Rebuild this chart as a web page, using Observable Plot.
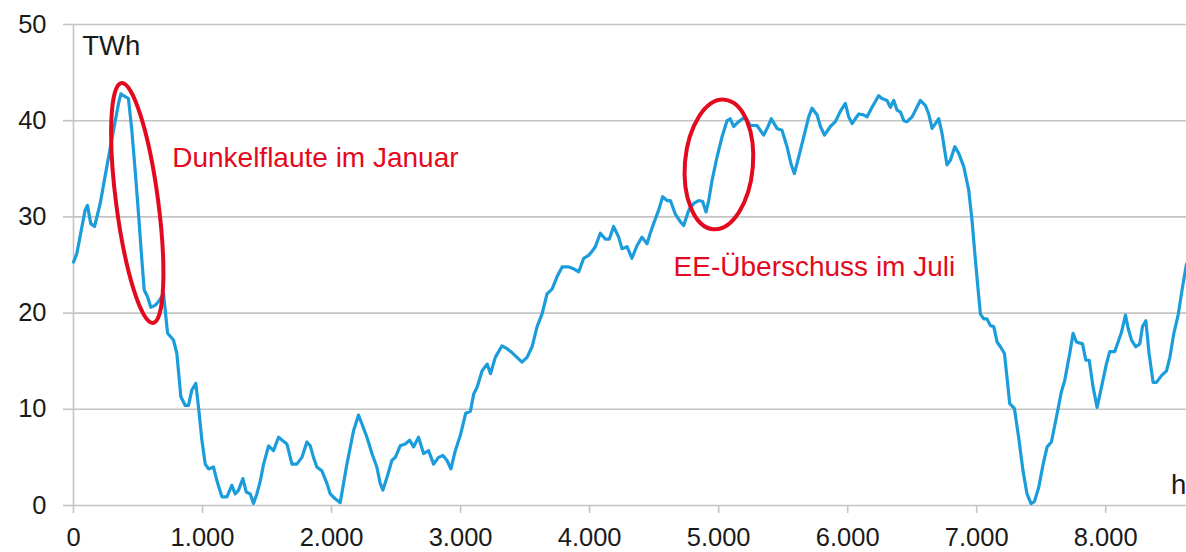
<!DOCTYPE html>
<html>
<head>
<meta charset="utf-8">
<script src="https://cdn.jsdelivr.net/npm/d3@7"></script>
<script src="https://cdn.jsdelivr.net/npm/@observablehq/plot@0.6"></script>
<style>
  html, body { margin: 0; padding: 0; background: #ffffff; }
  #chart svg { display: block; }
</style>
</head>
<body>
<div id="chart"></div>
<script>
// ---- Data ----
const hours = [0,26,90,108,134,163,207,258,310,349,367,388,426,452,478,504,530,548,574,599,633,659,698,729,775,801,832,866,891,917,948,969,995,1021,1047,1085,1111,1150,1189,1227,1253,1279,1313,1339,1370,1395,1421,1447,1473,1512,1550,1589,1615,1654,1693,1731,1770,1809,1835,1860,1886,1925,1964,1990,2028,2067,2119,2171,2209,2235,2274,2313,2351,2377,2398,2429,2468,2494,2532,2571,2605,2636,2674,2713,2752,2791,2829,2863,2894,2925,2959,2998,3040,3076,3102,3128,3167,3206,3232,3269,3321,3360,3398,3437,3476,3515,3554,3593,3631,3670,3709,3748,3787,3839,3876,3916,3954,3993,4018,4044,4083,4122,4153,4186,4225,4251,4290,4328,4367,4406,4445,4470,4496,4535,4566,4600,4626,4664,4703,4729,4768,4807,4845,4876,4902,4923,4949,4987,5026,5065,5090,5116,5155,5207,5245,5297,5349,5383,5408,5452,5491,5530,5561,5587,5620,5659,5698,5724,5763,5789,5820,5866,5905,5944,5982,6008,6034,6060,6086,6124,6150,6189,6240,6266,6305,6331,6357,6383,6409,6435,6460,6499,6533,6563,6602,6628,6654,6680,6706,6731,6752,6770,6796,6830,6861,6900,6938,6964,6990,7016,7029,7055,7080,7106,7132,7158,7184,7215,7235,7256,7292,7325,7359,7390,7421,7447,7481,7515,7546,7579,7618,7656,7682,7721,7747,7773,7820,7846,7872,7902,7933,7967,8005,8031,8070,8096,8122,8153,8174,8200,8233,8264,8285,8311,8336,8367,8393,8432,8471,8497,8528,8561,8595,8626];
const twh = [25.3,26.2,30.7,31.2,29.3,29.0,31.4,35.2,39.0,41.8,42.8,42.6,42.3,39.0,34.8,30.3,25.5,22.4,21.7,20.6,20.8,21.2,22.0,17.9,17.2,15.8,11.3,10.4,10.4,12.0,12.7,10.2,6.8,4.3,3.8,4.0,2.6,0.9,0.9,2.1,1.2,1.6,2.8,1.4,1.2,0.2,1.2,2.5,4.3,6.2,5.7,7.1,6.8,6.4,4.3,4.3,5.0,6.6,6.2,5.0,4.0,3.6,2.3,1.2,0.7,0.3,4.3,7.8,9.4,8.5,7.1,5.4,4.0,2.3,1.6,2.9,4.7,5.0,6.2,6.4,6.8,6.1,7.1,5.4,5.7,4.3,5.0,5.2,4.7,3.8,5.7,7.3,9.6,9.8,11.6,12.3,14.0,14.7,13.7,15.4,16.6,16.3,15.9,15.4,14.9,15.4,16.5,18.6,19.9,22.0,22.5,23.8,24.8,24.8,24.6,24.3,25.7,26.0,26.4,26.9,28.3,27.7,27.7,29.0,27.9,26.7,26.9,25.7,27.0,27.9,27.2,28.3,29.3,30.7,32.1,31.7,31.7,30.3,29.5,29.1,30.7,31.4,31.7,31.6,30.5,31.7,33.8,36.2,38.3,40.0,40.2,39.4,39.9,40.4,39.5,39.5,38.5,39.4,40.2,39.2,39.0,37.3,35.5,34.5,36.2,38.3,40.4,41.3,40.6,39.4,38.5,39.4,39.9,41.0,41.8,40.4,39.7,40.2,40.7,40.6,40.4,41.4,42.6,42.3,42.1,41.4,42.1,41.1,40.9,40.0,39.9,40.4,41.3,42.1,41.6,40.7,39.2,39.7,40.2,38.7,36.9,35.4,35.9,37.3,36.6,35.2,32.8,29.6,25.5,21.7,19.9,19.4,19.4,18.7,18.6,17.0,16.5,15.8,13.3,10.6,10.1,7.1,3.6,1.2,0.2,0.4,1.9,4.3,6.1,6.6,9.2,11.8,13.0,15.8,17.9,17.0,16.8,15.1,15.1,12.3,10.2,12.3,14.7,16.0,16.0,17.0,18.0,19.8,18.4,17.2,16.5,16.8,18.6,19.2,15.8,12.8,12.8,13.5,14.0,15.4,17.9,19.8,22.7,25.1];

const xTicks = [0,1000,2000,3000,4000,5000,6000,7000,8000];
const yTicks = [0,10,20,30,40,50];

// annotation texts and their anchor points (hours, TWh)
const noteLabels = ["Dunkelflaute im Januar", "EE-Überschuss im Juli"];
const noteHours = [765, 4651];
const noteTwh = [35.2, 23.9];

// ellipse annotation centres (hours, TWh)
const ringHours = [498, 5006];
const ringTwh = [31.4, 35.4];

// unit labels
const unitLabels = ["TWh", "h"];
const unitHours = [67, 8505];
const unitTwh = [46.8, 1.2];

// ---- Build tables ----
const series = hours.map((h, i) => ({h, v: twh[i]}));
const notes = noteLabels.map((t, i) => ({t, h: noteHours[i], v: noteTwh[i]}));
const rings = ringHours.map((h, i) => ({h, v: ringTwh[i]}));
const units = unitLabels.map((t, i) => ({t, h: unitHours[i], v: unitTwh[i]}));

const de = d3.formatLocale({decimal: ",", thousands: ".", grouping: [3], currency: ["", "€"]});
const fmt = de.format(",");

const ringStyle = [
  {rx: 21, ry: 121, angle: -7.5},
  {rx: 34, ry: 65, angle: 5}
];

const gridColor = "#c4c4c4";
const red = "#e30a20";

const chart = Plot.plot({
  width: 1186,
  height: 552,
  marginLeft: 73,
  marginRight: 0,
  marginTop: 24,
  marginBottom: 47,
  style: {fontFamily: "'Liberation Sans', Arial, sans-serif", background: "#ffffff", color: "#1a1a1a"},
  x: {domain: [0, 8626]},
  y: {domain: [0, 50]},
  marks: [
    Plot.gridY(yTicks, {stroke: gridColor, strokeOpacity: 1, strokeWidth: 1.6}),
    Plot.ruleX([0], {stroke: gridColor, strokeWidth: 1.6}),
    Plot.axisY(yTicks, {tickSize: 10, tickPadding: 17, stroke: gridColor, strokeWidth: 1.6, fontSize: 25.5, fill: "#1a1a1a", label: null}),
    Plot.axisX(xTicks, {tickSize: 8, tickPadding: 14, stroke: gridColor, strokeWidth: 1.6, fontSize: 25.5, fill: "#1a1a1a", tickFormat: fmt, label: null}),
    Plot.line(series, {x: "h", y: "v", stroke: "#1b9cdb", strokeWidth: 3.2, strokeLinejoin: "round", strokeLinecap: "round"}),
    (index, scales) => {
      const g = d3.create("svg:g");
      rings.forEach((r, i) => {
        const cx = scales.x(r.h), cy = scales.y(r.v), s = ringStyle[i];
        g.append("ellipse")
          .attr("cx", cx).attr("cy", cy)
          .attr("rx", s.rx).attr("ry", s.ry)
          .attr("transform", `rotate(${s.angle} ${cx} ${cy})`)
          .attr("fill", "none")
          .attr("stroke", red)
          .attr("stroke-width", 4);
      });
      return g.node();
    },
    Plot.text(notes, {x: "h", y: "v", text: "t", textAnchor: "start", lineAnchor: "bottom", fill: red, fontSize: 28}),
    Plot.text(units, {x: "h", y: "v", text: "t", textAnchor: "start", lineAnchor: "bottom", fill: "#1a1a1a", fontSize: 27.5})
  ]
});
document.getElementById("chart").appendChild(chart);
</script>
</body>
</html>
